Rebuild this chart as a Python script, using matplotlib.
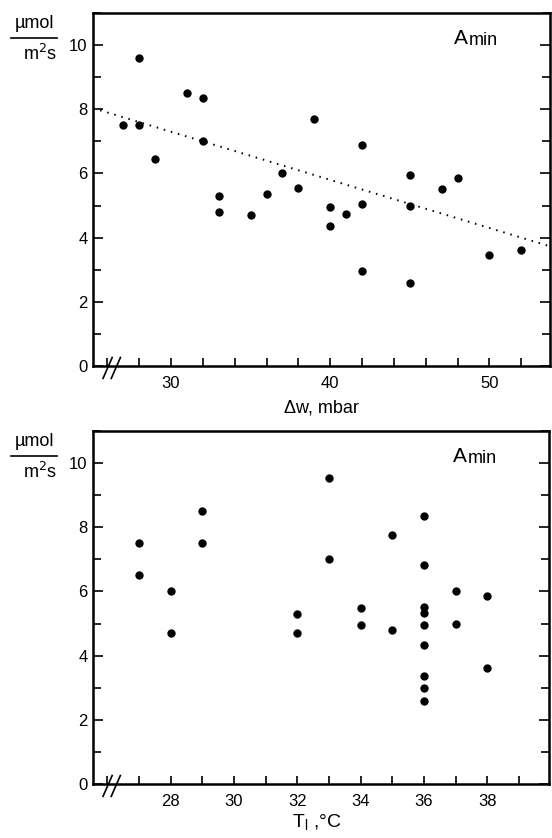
import matplotlib
matplotlib.use("Agg")
import matplotlib.pyplot as plt
from matplotlib.lines import Line2D
from matplotlib.ticker import MultipleLocator, FixedLocator

plt.rcParams['font.family'] = ['Liberation Sans Narrow', 'Liberation Sans', 'DejaVu Sans']

# Minimum assimilation vs. leaf-air vapour pressure difference
dw_mbar = [27, 28, 28, 29, 31, 32, 32, 33, 33, 35, 36, 37, 38, 39,
           40, 40, 41, 42, 42, 42, 45, 45, 45, 47, 48, 50, 52]
a_min_dw = [7.5, 9.6, 7.5, 6.45, 8.5, 8.35, 7.0, 5.3, 4.8, 4.7, 5.35, 6.0, 5.55, 7.7,
            4.95, 4.35, 4.75, 6.9, 5.05, 2.95, 5.95, 5.0, 2.6, 5.5, 5.85, 3.45, 3.6]

# Regression line (A = intercept + slope * dw)
reg_intercept = 11.8
reg_slope = -0.15

# Minimum assimilation vs. leaf temperature
t_leaf = [27, 27, 28, 28, 29, 29, 32, 32, 33, 33, 34, 34, 35, 35,
          36, 36, 36, 36, 36, 36, 36, 36, 36, 37, 37, 38, 38]
a_min_t = [7.5, 6.5, 6.0, 4.7, 8.5, 7.5, 5.3, 4.7, 9.55, 7.0, 5.5, 4.95, 7.75, 4.8,
           8.35, 6.82, 5.52, 5.33, 4.97, 4.33, 3.36, 2.99, 2.59, 6.0, 5.0, 5.85, 3.6]

y_ticks = [0, 2, 4, 6, 8, 10]
dw_ticklabels = [30, 40, 50]
t_ticklabels = [28, 30, 32, 34, 36, 38]

W, H = 552, 838
fig = plt.figure(figsize=(W / 100, H / 100), dpi=100)

ax1 = fig.add_axes([93 / W, 1 - 366 / H, (550 - 93) / W, (366 - 13) / H])
ax2 = fig.add_axes([93 / W, 1 - 784 / H, (549 - 93) / W, (784 - 431) / H])

tick_fs = 12


def style_axes(ax, xlim, xmajor, xlabels):
    ax.set_ylim(0, 11)
    ax.set_xlim(*xlim)
    for s in ax.spines.values():
        s.set_linewidth(1.8)
        s.set_color('black')
    ax.yaxis.set_major_locator(FixedLocator(y_ticks))
    ax.yaxis.set_minor_locator(MultipleLocator(1))
    ax.set_yticklabels([str(v) for v in y_ticks])
    ax.xaxis.set_major_locator(MultipleLocator(xmajor))
    ax.set_xticklabels([])
    ax.tick_params(axis='both', which='both', direction='in', top=False,
                   right=True, left=True, bottom=True, width=1.2, colors='black')
    ax.tick_params(axis='y', which='major', length=7, labelsize=tick_fs, pad=4)
    ax.tick_params(axis='y', which='minor', length=6)
    ax.tick_params(axis='x', which='major', length=6, labelsize=tick_fs)
    for v in xlabels:
        ax.text(v, -0.3, str(v), ha='center', va='top', fontsize=tick_fs)
    # axis break marks on the x axis
    for off in (0.022, 0.040):
        ax.add_line(Line2D([off, off + 0.02], [-0.035, 0.024],
                           transform=ax.transAxes, color='black', lw=1.2,
                           clip_on=False))
    # unit fraction at the top left
    bb = ax.get_position()
    ytop = bb.y1
    fig.text(34 / W, ytop - 2 / H, 'µmol', ha='center', va='top', fontsize=13)
    fig.add_artist(Line2D([11 / W, 57 / W], [ytop - 25.5 / H, ytop - 25.5 / H],
                          color='black', lw=1.2))
    fig.text(40 / W, ytop - 31 / H, 'm$^2$s', ha='center', va='top', fontsize=13)
    ax.text(0.79, 0.955, 'A', transform=ax.transAxes, ha='left', va='top', fontsize=15)
    ax.text(0.822, 0.945, 'min', transform=ax.transAxes, ha='left', va='top', fontsize=13)


# top panel
style_axes(ax1, (25.1, 53.8), 2, dw_ticklabels)
ax1.scatter(dw_mbar, a_min_dw, s=36, color='black', zorder=3, linewidths=0)
xl = ax1.get_xlim()
ax1.plot(xl, [reg_intercept + reg_slope * xl[0], reg_intercept + reg_slope * xl[1]],
         color='black', lw=1.4, linestyle=(0, (0.8, 3.0)), zorder=2)
ax1.set_xlim(xl)
ax1.text(0.5, -0.095, 'Δw, mbar', transform=ax1.transAxes, ha='center', va='top',
         fontsize=13)

# bottom panel
style_axes(ax2, (25.55, 39.95), 1, t_ticklabels)
ax2.scatter(t_leaf, a_min_t, s=36, color='black', zorder=3, linewidths=0)
ax2.text(0.49, -0.08, 'T$_\\mathregular{l}$ ,°C', transform=ax2.transAxes, ha='center',
         va='top', fontsize=14)

fig.savefig('out.png', dpi=100)
